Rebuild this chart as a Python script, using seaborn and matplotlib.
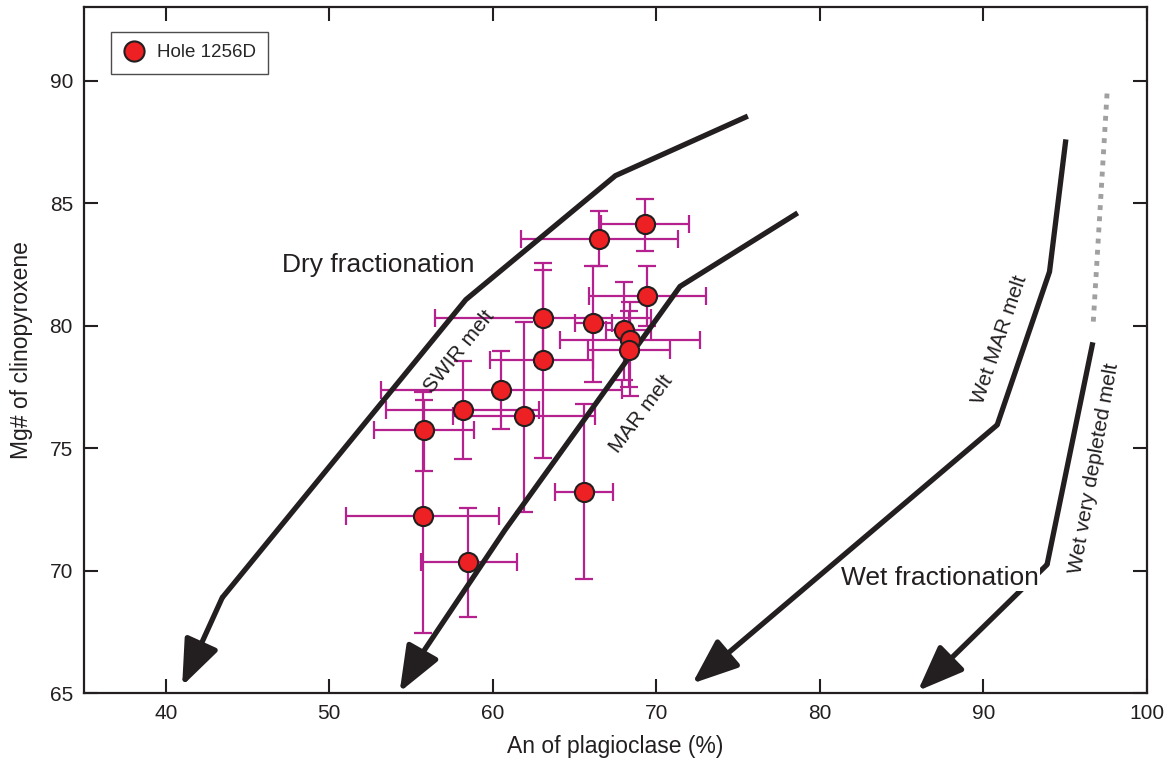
import matplotlib
matplotlib.use("Agg")
import matplotlib.pyplot as plt
import seaborn as sns
import numpy as np
import pandas as pd

# ---- data: Hole 1256D ----
an     = [69.3, 66.5, 69.45, 63.05, 63.05, 66.15, 68.0, 68.4, 68.35, 60.5, 58.15, 61.9, 55.8, 55.75, 58.5, 65.6]
mg     = [84.15, 83.55, 81.2, 80.3, 78.6, 80.1, 79.83, 79.43, 79.02, 77.36, 76.57, 76.3, 75.73, 72.24, 70.36, 73.22]
an_lo  = [66.6, 61.7, 65.9, 56.45, 59.85, 65.05, 66.9, 64.1, 65.85, 53.15, 53.45, 57.55, 52.75, 51.05, 55.6, 63.8]
an_hi  = [72.0, 71.35, 73.05, 69.7, 66.15, 67.3, 69.7, 72.65, 70.85, 67.9, 62.8, 66.25, 58.85, 60.4, 61.45, 67.35]
mg_lo  = [83.03, 82.42, 79.97, 78.4, 74.6, 77.72, 77.79, 77.11, 77.5, 75.78, 74.55, 72.39, 74.08, 67.45, 68.13, 69.65]
mg_hi  = [85.17, 84.67, 82.42, 82.56, 82.28, 82.42, 81.77, 80.95, 80.6, 78.95, 78.54, 80.13, 76.98, 77.3, 72.55, 76.8]

# ---- fractionation paths (last vertex = arrow tip) ----
swir_x = [75.6, 67.5, 58.35, 43.45, 41.0]
swir_y = [88.55, 86.12, 81.06, 68.9, 65.3]
mar_x  = [78.65, 71.45, 60.75, 55.45, 54.3]
mar_y  = [84.6, 81.6, 71.67, 66.4, 65.05]
wmar_x = [95.05, 94.05, 90.85, 72.2]
wmar_y = [87.6, 82.2, 75.95, 65.4]
wdep_x = [96.7, 93.9, 86.0]
wdep_y = [79.32, 70.25, 65.1]
wdot_x = [97.57, 96.71]
wdot_y = [89.47, 79.96]

sns.set_theme(style="ticks")
plt.rcParams['font.family'] = ['Liberation Sans', 'DejaVu Sans']

fig = plt.figure(figsize=(11.69, 7.73), dpi=100)
ax = fig.add_axes([0.0719, 0.1031, 0.9091, 0.8878])

ink = "#231F20"
mag = "#B5218E"
red = "#ED2024"

df = pd.DataFrame({"an": an, "mg": mg})
xerr = np.array([np.array(an) - np.array(an_lo), np.array(an_hi) - np.array(an)])
yerr = np.array([np.array(mg) - np.array(mg_lo), np.array(mg_hi) - np.array(mg)])
ax.errorbar(an, mg, xerr=xerr, yerr=yerr, fmt="none", ecolor=mag, elinewidth=1.6,
            capsize=6.5, capthick=1.6, zorder=1)

def path(xs, ys):
    d = pd.DataFrame({"x": xs[:-1], "y": ys[:-1]})
    sns.lineplot(data=d, x="x", y="y", sort=False, estimator=None, color=ink,
                 lw=3.8, ax=ax, zorder=2, solid_capstyle="butt", solid_joinstyle="miter")
    ax.annotate("", xy=(xs[-1], ys[-1]), xytext=(xs[-2], ys[-2]),
                arrowprops=dict(arrowstyle="-|>,head_length=1.4,head_width=0.55",
                                mutation_scale=20, lw=3.8, color=ink,
                                shrinkA=0, shrinkB=0), zorder=2)

for xs, ys in [(swir_x, swir_y), (mar_x, mar_y), (wmar_x, wmar_y), (wdep_x, wdep_y)]:
    path(xs, ys)

ax.plot(wdot_x, wdot_y, color="#A0A0A0", lw=3.5, linestyle=(0, (1, 1.3)),
        solid_capstyle="butt", zorder=2)

sns.scatterplot(data=df, x="an", y="mg", s=190, color=red, edgecolor=ink,
                linewidth=1.5, ax=ax, zorder=3, label="Hole 1256D", legend=False)

# labels on plot
ax.text(52.98, 82.49, "Dry fractionation", fontsize=19, ha="center", va="center", color=ink)
ax.text(87.35, 69.71, "Wet fractionation", fontsize=19, ha="center", va="center", color=ink,
        bbox=dict(facecolor="white", edgecolor="none", pad=1), zorder=4)
ax.text(57.94, 78.94, "SWIR melt", fontsize=15, rotation=51, ha="center", va="center", color=ink)
ax.text(69.05, 76.4, "MAR melt", fontsize=15, rotation=53, ha="center", va="center", color=ink)
ax.text(90.98, 79.43, "Wet MAR melt", fontsize=15, rotation=71, ha="center", va="center", color=ink)
ax.text(96.77, 74.18, "Wet very depleted melt", fontsize=15, rotation=80, ha="center", va="center", color=ink)

ax.set_xlim(35, 100)
ax.set_ylim(65, 93)
ax.set_xticks([40, 50, 60, 70, 80, 90, 100])
ax.set_yticks([65, 70, 75, 80, 85, 90])
ax.set_xlabel("An of plagioclase (%)", fontsize=16.5, color=ink, labelpad=8)
ax.set_ylabel("Mg# of clinopyroxene", fontsize=16.5, color=ink, labelpad=12)
ax.tick_params(direction="in", length=10, width=1.5, colors=ink, labelsize=15,
               top=True, right=True, labeltop=False, labelright=False, pad=8)
for s in ax.spines.values():
    s.set_visible(True)
    s.set_color(ink)
    s.set_linewidth(1.6)

h = plt.Line2D([], [], marker="o", linestyle="none", markersize=14.5,
               markerfacecolor=red, markeredgecolor=ink, markeredgewidth=1.5)
leg = ax.legend([h], ["Hole 1256D"], loc="upper left", bbox_to_anchor=(0.0254, 0.9636),
                borderaxespad=0, fontsize=13.5, frameon=True, fancybox=False,
                edgecolor=ink, handletextpad=0.6, borderpad=0.65, handlelength=1.2)
leg.get_frame().set_linewidth(1.0)

fig.savefig("out.png", dpi=100)
